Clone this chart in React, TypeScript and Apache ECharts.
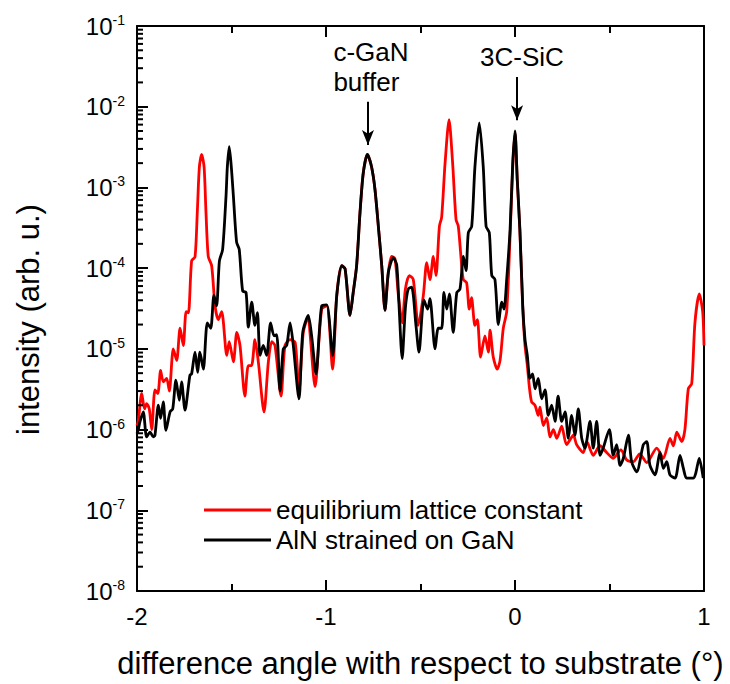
import React, { useEffect, useRef } from "react";
import * as echarts from "echarts";

// difference angle (°) vs intensity (arb. u.)
const equilibriumData: [number, number][] = [
  [-2.0, 1.12e-6], [-1.993, 1.3e-6], [-1.975, 2.8e-6], [-1.96, 1.8e-6], [-1.949, 2.1e-6],
  [-1.935, 1.8e-6], [-1.922, 1.0e-6], [-1.905, 3.1e-6], [-1.89, 2.8e-6], [-1.875, 5.4e-6],
  [-1.861, 3.9e-6], [-1.843, 4.3e-6], [-1.829, 3.0e-6], [-1.808, 1.0e-5], [-1.79, 7.2e-6],
  [-1.772, 1.8e-5], [-1.755, 1.1e-5], [-1.74, 2.9e-5], [-1.728, 2.8e-5], [-1.711, 1.23e-4],
  [-1.693, 1.38e-4], [-1.681, 4.9e-4], [-1.67, 1.8e-3], [-1.658, 2.57e-3], [-1.645, 1.8e-3],
  [-1.635, 4.9e-4], [-1.623, 1.4e-4], [-1.605, 1.07e-4], [-1.587, 3.4e-5], [-1.57, 2.3e-5],
  [-1.552, 2.9e-5], [-1.525, 8.3e-6], [-1.512, 1.23e-5], [-1.49, 6.9e-6], [-1.472, 1.6e-5],
  [-1.455, 1.1e-5], [-1.429, 2.6e-6], [-1.411, 6.2e-6], [-1.394, 6.2e-6], [-1.376, 1.3e-5],
  [-1.358, 6.9e-6], [-1.328, 1.65e-6], [-1.305, 6.9e-6], [-1.287, 1.23e-5], [-1.27, 1.1e-5],
  [-1.238, 2.6e-6], [-1.217, 1.1e-5], [-1.19, 1.3e-5], [-1.163, 1.2e-5], [-1.143, 3.0e-6],
  [-1.12, 1.6e-5], [-1.094, 2.5e-5], [-1.085, 1.6e-5], [-1.058, 3.4e-6], [-1.023, 3.1e-5],
  [-0.996, 3.4e-5], [-0.965, 5.6e-6], [-0.943, 4.6e-5], [-0.917, 1.07e-4], [-0.899, 9.8e-5],
  [-0.873, 2.6e-5], [-0.856, 5.0e-5], [-0.838, 1.07e-4], [-0.82, 4.9e-4], [-0.803, 1.5e-3],
  [-0.781, 2.57e-3], [-0.759, 1.8e-3], [-0.741, 9.5e-4], [-0.723, 3.3e-4], [-0.705, 1.07e-4],
  [-0.688, 3.0e-5], [-0.67, 8.9e-5], [-0.653, 1.4e-4], [-0.635, 1.3e-4], [-0.617, 4.6e-5],
  [-0.597, 2.1e-5], [-0.58, 5.5e-5], [-0.559, 8.1e-5], [-0.538, 7.2e-5], [-0.512, 1.95e-5],
  [-0.485, 4.6e-5], [-0.467, 1.17e-4], [-0.45, 7.2e-5], [-0.432, 1.4e-4], [-0.418, 8.1e-5],
  [-0.4, 3.3e-4], [-0.388, 4.3e-4], [-0.37, 2.0e-3], [-0.349, 6.9e-3], [-0.33, 2.0e-3],
  [-0.312, 4.0e-4], [-0.3, 3.3e-4], [-0.282, 1.07e-4], [-0.273, 7.2e-5], [-0.256, 6.6e-5],
  [-0.242, 3.1e-5], [-0.23, 4.3e-5], [-0.212, 1.95e-5], [-0.199, 2.3e-5], [-0.182, 7.9e-6],
  [-0.159, 1.45e-5], [-0.141, 9.1e-6], [-0.132, 1.7e-5], [-0.115, 7.9e-6], [-0.094, 5.6e-6],
  [-0.079, 7.2e-6], [-0.062, 1.8e-5], [-0.044, 2.9e-5], [-0.026, 2.5e-4], [-0.012, 1.8e-3],
  [0.0, 4.8e-3], [0.012, 1.2e-3], [0.026, 2.8e-4], [0.041, 3.2e-5], [0.053, 1.1e-5],
  [0.065, 6.3e-6], [0.077, 3.2e-6], [0.088, 2.2e-6], [0.106, 2.0e-6], [0.123, 1.5e-6],
  [0.132, 1.9e-6], [0.15, 1.12e-6], [0.168, 1.4e-6], [0.185, 8.1e-7], [0.203, 1.0e-6],
  [0.221, 7.8e-7], [0.247, 1.1e-6], [0.273, 6.5e-7], [0.309, 8.5e-7], [0.326, 6.5e-7],
  [0.361, 5.2e-7], [0.38, 7.1e-7], [0.414, 4.8e-7], [0.45, 6.3e-7], [0.485, 5.2e-7],
  [0.52, 4.4e-7], [0.56, 5.6e-7], [0.591, 4.2e-7], [0.626, 4.0e-7], [0.66, 5.0e-7],
  [0.697, 3.9e-7], [0.75, 5.9e-7], [0.785, 4.4e-7], [0.82, 7.8e-7], [0.838, 6.3e-7],
  [0.856, 9.3e-7], [0.882, 7.1e-7], [0.899, 1.0e-6], [0.917, 3.2e-6], [0.935, 3.7e-6],
  [0.952, 2.1e-5], [0.975, 4.8e-5], [0.993, 2.9e-5], [1.0, 1.1e-5],
];

const strainedData: [number, number][] = [
  [-2.0, 8.9e-7], [-1.993, 1.0e-6], [-1.984, 1.26e-6], [-1.967, 1.66e-6], [-1.949, 8.1e-7],
  [-1.931, 9.3e-7], [-1.914, 8.1e-7], [-1.905, 8.5e-7], [-1.887, 2.0e-6], [-1.875, 1.38e-6],
  [-1.861, 2.2e-6], [-1.847, 9.8e-7], [-1.825, 1.66e-6], [-1.811, 1.8e-6], [-1.794, 4.1e-6],
  [-1.776, 2.3e-6], [-1.764, 3.9e-6], [-1.746, 1.74e-6], [-1.72, 4.7e-6], [-1.711, 4.9e-6],
  [-1.693, 9.1e-6], [-1.679, 5.1e-6], [-1.667, 9.1e-6], [-1.649, 5.6e-6], [-1.628, 2.1e-5],
  [-1.61, 1.8e-5], [-1.593, 4.6e-5], [-1.579, 3.4e-5], [-1.564, 1.23e-4], [-1.547, 1.7e-4],
  [-1.529, 7.8e-4], [-1.522, 1.8e-3], [-1.512, 3.2e-3], [-1.501, 1.8e-3], [-1.49, 7.8e-4],
  [-1.473, 2.1e-4], [-1.459, 1.7e-4], [-1.441, 5.2e-5], [-1.423, 5.0e-5], [-1.411, 1.86e-5],
  [-1.393, 3.8e-5], [-1.376, 1.95e-5], [-1.363, 2.8e-5], [-1.349, 8.3e-6], [-1.332, 1.1e-5],
  [-1.314, 8.3e-6], [-1.293, 2.1e-5], [-1.275, 1.45e-5], [-1.261, 1.5e-5], [-1.243, 3.0e-6],
  [-1.226, 1.0e-5], [-1.208, 1.1e-5], [-1.19, 2.1e-5], [-1.173, 1.1e-5], [-1.143, 2.4e-6],
  [-1.123, 1.6e-5], [-1.094, 2.6e-5], [-1.076, 1.45e-5], [-1.053, 4.9e-6], [-1.023, 3.4e-5],
  [-0.996, 3.5e-5], [-0.965, 8.3e-6], [-0.943, 4.6e-5], [-0.917, 1.07e-4], [-0.899, 9.8e-5],
  [-0.873, 2.6e-5], [-0.856, 5.0e-5], [-0.838, 1.07e-4], [-0.82, 4.9e-4], [-0.803, 1.5e-3],
  [-0.781, 2.57e-3], [-0.759, 1.8e-3], [-0.741, 9.5e-4], [-0.723, 3.3e-4], [-0.705, 1.07e-4],
  [-0.688, 3.0e-5], [-0.67, 8.9e-5], [-0.644, 1.35e-4], [-0.626, 1.1e-4], [-0.615, 4.0e-5],
  [-0.597, 7.6e-6], [-0.58, 3.2e-5], [-0.565, 5.5e-5], [-0.547, 5.8e-5], [-0.524, 1.95e-5],
  [-0.508, 9.1e-6], [-0.482, 4.0e-5], [-0.462, 3.1e-5], [-0.45, 4.2e-5], [-0.423, 1.0e-5],
  [-0.406, 1.8e-5], [-0.388, 1.8e-5], [-0.376, 5.0e-5], [-0.361, 3.1e-5], [-0.347, 4.8e-5],
  [-0.327, 1.6e-5], [-0.308, 5.0e-5], [-0.291, 5.5e-5], [-0.273, 1.4e-4], [-0.259, 9.3e-5],
  [-0.247, 2.75e-4], [-0.229, 3.3e-4], [-0.212, 1.8e-3], [-0.189, 6.3e-3], [-0.168, 1.8e-3],
  [-0.153, 3.3e-4], [-0.136, 2.75e-4], [-0.123, 8.1e-5], [-0.106, 7.2e-5], [-0.088, 2.0e-5],
  [-0.07, 3.8e-5], [-0.058, 3.1e-5], [-0.044, 7.2e-5], [-0.026, 3.0e-4], [-0.012, 2.0e-3],
  [0.0, 5.0e-3], [0.012, 1.26e-3], [0.026, 3.0e-4], [0.041, 3.4e-5], [0.053, 1.3e-5],
  [0.065, 8.3e-6], [0.079, 4.3e-6], [0.093, 4.9e-6], [0.106, 3.2e-6], [0.123, 4.3e-6],
  [0.141, 2.4e-6], [0.159, 3.1e-6], [0.176, 1.5e-6], [0.194, 2.0e-6], [0.212, 1.26e-6],
  [0.228, 2.6e-6], [0.247, 1.26e-6], [0.265, 1.66e-6], [0.282, 7.8e-7], [0.3, 1.5e-6],
  [0.317, 8.5e-7], [0.335, 1.8e-6], [0.353, 7.8e-7], [0.37, 5.9e-7], [0.397, 1.26e-6],
  [0.414, 5.9e-7], [0.432, 1.26e-6], [0.45, 4.8e-7], [0.467, 5.9e-7], [0.499, 1.0e-6],
  [0.52, 4.8e-7], [0.538, 6.5e-7], [0.556, 3.6e-7], [0.573, 4.4e-7], [0.6, 8.5e-7],
  [0.617, 4.0e-7], [0.644, 3.0e-7], [0.679, 6.5e-7], [0.697, 7.1e-7], [0.714, 3.6e-7],
  [0.741, 2.75e-7], [0.767, 5.2e-7], [0.785, 3.3e-7], [0.803, 4.0e-7], [0.82, 2.75e-7],
  [0.847, 2.5e-7], [0.873, 4.8e-7], [0.891, 3.3e-7], [0.908, 2.5e-7], [0.943, 2.5e-7],
  [0.955, 2.8e-7], [0.975, 4.4e-7], [0.996, 2.5e-7],
];

const seriesNames = ["equilibrium lattice constant", "AlN strained on GaN"];
const seriesColors = ["#ff0000", "#000000"];
const yMin = 1e-8;
const yMax = 1e-1;
const xMin = -2;
const xMax = 1;
// minor tick values of the logarithmic intensity axis
const minorMantissas = [2, 3, 4, 5, 6, 7, 8, 9];
const decadeExponents = [-8, -7, -6, -5, -4, -3, -2];
// annotations: [x, y] in data units
const bufferArrow: [number, number][] = [[-0.778, 1.15e-2], [-0.778, 3.35e-3]];
const sicArrow: [number, number][] = [[0.011, 2.34e-2], [0.011, 6.8e-3]];
const bufferLabelPos: [number, number] = [-0.99, 3.12e-2];
const sicLabelPos: [number, number] = [0.037, 4.14e-2];

const FONT = "'Liberation Sans', Arial, Helvetica, sans-serif";

export default function App() {
  const ref = useRef<HTMLDivElement>(null);
  useEffect(() => {
    document.body.style.margin = "0";
    if (!ref.current) return;
    const chart = echarts.init(ref.current, undefined, { renderer: "svg" });
    const minorVals: number[][] = [];
    decadeExponents.forEach((e) =>
      minorMantissas.forEach((m) => minorVals.push([xMin, m * Math.pow(10, e)]))
    );
    const axisLine = { show: true, lineStyle: { color: "#000", width: 2 } };
    chart.setOption({
      animation: false,
      backgroundColor: "#fff",
      grid: { left: 137, right: 26, top: 26, bottom: 91, containLabel: false },
      legend: {
        left: 199,
        top: 492,
        orient: "vertical",
        icon: "rect",
        itemWidth: 67,
        itemHeight: 3,
        itemGap: 4,
        data: seriesNames,
        textStyle: { fontSize: 26, lineHeight: 26, color: "#000", fontFamily: FONT },
      },
      xAxis: [
        {
          type: "value",
          min: xMin,
          max: xMax,
          interval: 1,
          position: "bottom",
          axisLine: { ...axisLine, onZero: false },
          axisTick: { show: true, inside: true, length: 11, lineStyle: { color: "#000", width: 2 } },
          minorTick: { show: true, splitNumber: 2, length: 7, lineStyle: { color: "#000", width: 2 } },
          splitLine: { show: false },
          axisLabel: { fontSize: 24, color: "#000", fontFamily: FONT, margin: 13 },
          name: "difference angle with respect to substrate (°)",
          nameLocation: "middle",
          nameGap: 57,
          nameTextStyle: { fontSize: 31, color: "#000", fontFamily: FONT },
        },
        {
          type: "value",
          min: xMin,
          max: xMax,
          interval: 1,
          position: "top",
          axisLine: { ...axisLine, onZero: false },
          axisTick: { show: true, inside: true, length: 11, lineStyle: { color: "#000", width: 2 } },
          minorTick: { show: true, splitNumber: 2, length: 7, lineStyle: { color: "#000", width: 2 } },
          splitLine: { show: false },
          axisLabel: { show: false },
        },
      ],
      yAxis: [
        {
          type: "log",
          logBase: 10,
          min: yMin,
          max: yMax,
          splitNumber: 7,
          position: "left",
          axisLine: { ...axisLine, onZero: false },
          axisTick: { show: true, inside: true, length: 11, lineStyle: { color: "#000", width: 2 } },
          splitLine: { show: false },
          axisLabel: {
            margin: 12,
            formatter: (v: number) => `{b|10}{s|${Math.round(Math.log10(v))}}`,
            rich: {
              b: { fontSize: 24, lineHeight: 26, color: "#000", fontFamily: FONT },
              s: { fontSize: 14, verticalAlign: "top", color: "#000", fontFamily: FONT },
            },
          },
          name: "intensity (arb. u.)",
          nameLocation: "middle",
          nameGap: 93,
          nameTextStyle: { fontSize: 31, color: "#000", fontFamily: FONT, padding: [0, 22, 0, 0] },
        },
        {
          type: "log",
          logBase: 10,
          min: yMin,
          max: yMax,
          position: "right",
          axisLine: { ...axisLine, onZero: false },
          axisTick: { show: false },
          splitLine: { show: false },
          axisLabel: { show: false },
        },
      ],
      series: [
        {
          name: seriesNames[0],
          type: "line",
          data: equilibriumData,
          showSymbol: false,
          smooth: 0.25,
          color: seriesColors[0],
          lineStyle: { color: seriesColors[0], width: 2.8 },
          z: 2,
        },
        {
          name: seriesNames[1],
          type: "line",
          data: strainedData,
          showSymbol: false,
          smooth: 0.25,
          color: seriesColors[1],
          lineStyle: { color: seriesColors[1], width: 2.8 },
          z: 3,
          markLine: {
            silent: true,
            symbol: ["none", "arrow"],
            symbolSize: [9, 15],
            label: { show: false },
            lineStyle: { color: "#000", width: 2, type: "solid" },
            data: [
              [{ coord: bufferArrow[0] }, { coord: bufferArrow[1] }],
              [{ coord: sicArrow[0] }, { coord: sicArrow[1] }],
            ],
          },
          markPoint: {
            silent: true,
            symbol: "circle",
            symbolSize: 1,
            itemStyle: { color: "rgba(0,0,0,0)" },
            data: [
              {
                coord: bufferLabelPos,
                label: {
                  show: true,
                  position: "right",
                  distance: 5,
                  formatter: "c-GaN\nbuffer",
                  fontSize: 26,
                  lineHeight: 30,
                  color: "#000",
                  fontFamily: FONT,
                  align: "left",
                },
              },
              {
                coord: sicLabelPos,
                label: {
                  show: true,
                  position: "inside",
                  formatter: "3C-SiC",
                  fontSize: 26,
                  color: "#000",
                  fontFamily: FONT,
                },
              },
            ],
          },
        },
        {
          name: "minor ticks",
          type: "scatter",
          silent: true,
          clip: false,
          data: minorVals,
          symbol: "rect",
          symbolSize: [6, 2],
          symbolOffset: [3, 0],
          itemStyle: { color: "#000", opacity: 1 },
          z: 4,
        },
      ],
    });
    return () => chart.dispose();
  }, []);
  return <div ref={ref} style={{ width: 730, height: 684 }} />;
}
